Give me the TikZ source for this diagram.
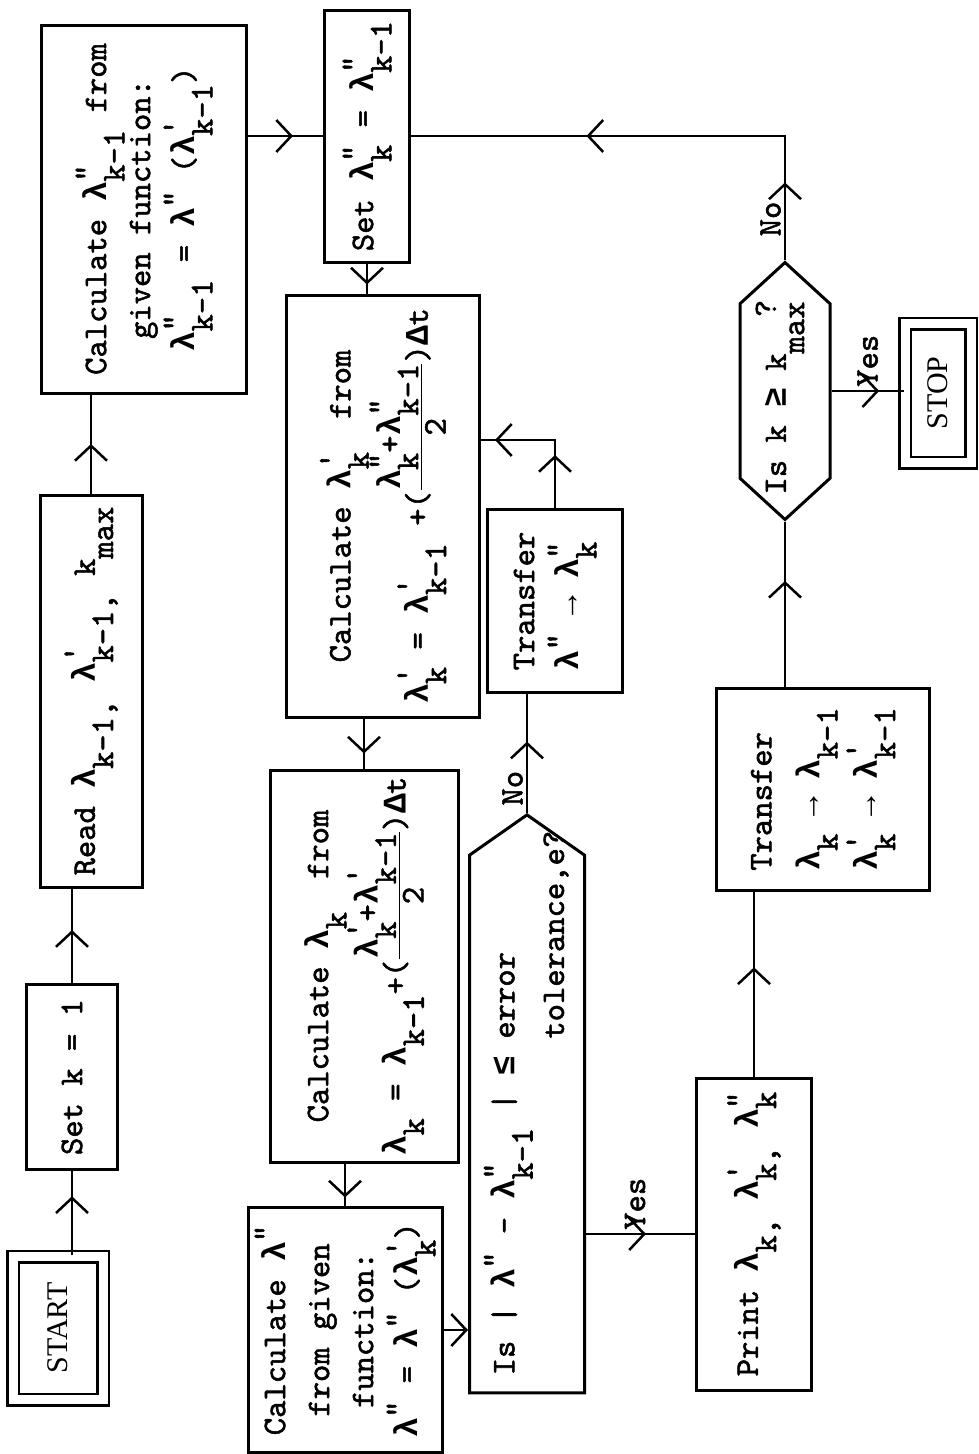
\documentclass[tikz,border=0pt]{standalone}
\usepackage{amsmath}
\usepackage{fontspec}
\newfontfamily\tyfont{lmmono10-regular.otf}[FakeBold=1.6]
\newfontfamily\grkfont{Liberation Mono Bold}
\newfontfamily\termfont{Liberation Serif}
\usepackage{tikz}
\usetikzlibrary{arrows.meta,shapes.symbols,calc,decorations.markings}
\newcommand{\lmb}{{\grkfont λ}}
\newcommand{\gsym}[1]{{\grkfont #1}}
\newcommand{\lsup}[1]{\raisebox{0.3em}{#1}}
\newcommand{\lsub}[1]{\raisebox{-0.55em}{#1}}
\newcommand{\lam}[2]{\lmb\makebox[0pt][l]{\lsup{#2}}\lsub{#1}}
\newcommand{\pr}{\symbol{39}}
\newcommand{\dpr}{\symbol{34}}

\begin{document}
\begin{tikzpicture}[x=1pt,y=-1pt,>={Straight Barb[length=15pt,width=32pt]},
  font=\tyfont\fontsize{33}{44}\selectfont,
  procblk/.style={draw,line width=3pt,rotate=90,align=center,inner sep=2pt},
  termblk/.style={draw,line width=2.5pt,double,double distance=9pt,rotate=90,font=\termfont\fontsize{30}{34}\selectfont},
  testblk/.style={draw,line width=3pt,rotate=90,shape=signal},
  testtxt/.style={rotate=90,align=left,inner sep=0pt},
  flow/.style={line width=2.5pt},
  midtip/.style={postaction={decorate,decoration={markings,mark=at position #1 with {\arrow[line width=2.5pt]{>}}}}},
  lbl/.style={rotate=90,inner sep=3pt}]
\useasboundingbox (0,0) rectangle (979,1454);
% first column
\node[termblk,minimum width=143pt,minimum height=90pt] (start) at (58,1328) {START};
\node[procblk,minimum width=185pt,minimum height=91pt] (setk) at (72,1077) {Set k = 1};
\node[procblk,minimum width=392pt,minimum height=102pt] (read) at (91,691) {Read \lam{k-1,}{}\ \lam{k-1,}{\pr}\ k\lsub{max}};
\node[procblk,minimum width=368pt,minimum height=205pt] (calcpp0) at (144,209) {Calculate \lam{k-1}{\dpr} from\\ given function:\\ \lam{k-1}{\dpr} = \lmb\lsup{\dpr} (\lam{k-1}{\pr})};
% second column
\node[procblk,minimum width=252pt,minimum height=85pt] (setpp) at (367,136) {Set \lam{k}{\dpr} = \lam{k-1}{\dpr}};
\node[procblk,minimum width=422pt,minimum height=193pt] (calcp) at (383,506) {Calculate \lam{k}{\pr}\quad from\\ \lam{k}{\pr} = \lam{k-1}{\pr} +($\dfrac{\text{\lam{k}{\dpr}+\lam{k-1}{\dpr}}}{\text{2}}$)\gsym{Δ}t};
\node[procblk,minimum width=392pt,minimum height=188pt] (calcl) at (364,966) {Calculate \lam{k}{}\quad from\\ \lam{k}{} = \lam{k-1}{}+($\dfrac{\text{\lam{k}{\pr}+\lam{k-1}{\pr}}}{\text{2}}$)\gsym{Δ}t};
\node[procblk,minimum width=245pt,minimum height=194pt] (calcpp) at (345,1330) {Calculate \lmb\lsup{\dpr}\\ from given\\ function:\\ \lmb\lsup{\dpr} = \lmb\lsup{\dpr} (\lam{k}{\pr})};
% third column
\node[testblk,signal to=east,signal pointer angle=110,minimum width=578pt,minimum height=115pt] (test1) at (527,1124) {};
\node[testtxt] (test1txt) at (533,1103) {Is | \lmb\lsup{\dpr} - \lam{k-1}{\dpr} | \gsym{≤} error\\ \phantom{Is | \lmb\lsup{\dpr} - \lam{k-1}{\dpr} | \gsym{≤} }tolerance,e?};
\node[procblk,minimum width=183pt,minimum height=135pt,align=left] (transpp) at (555,601) {Transfer\\ \lmb\lsup{\dpr} \gsym{→} \lam{k}{\dpr}};
% fourth column
\node[procblk,minimum width=312pt,minimum height=115pt] (print) at (754,1234) {Print \lam{k,}{}\ \lam{k,}{\pr}\ \lam{k}{\dpr}};
\node[procblk,minimum width=202pt,minimum height=213pt,align=left] (transf) at (823,789) {Transfer\\[4pt] \lam{k}{} \gsym{→} \lam{k-1}{}\\[8pt] \lam{k}{\pr} \gsym{→} \lam{k-1}{\pr}};
\node[testblk,signal to=east and west,signal pointer angle=95,minimum width=257pt,minimum height=90pt] (test2) at (785,391) {};
\node[testtxt] (test2txt) at (780,398) {Is k \gsym{≥} k\makebox[0pt][l]{\lsup{\hspace{1.1em}?}}\lsub{max}};
\node[termblk,minimum width=139pt,minimum height=66pt] (stop) at (938,393) {STOP};
% connectors
\coordinate (kink) at (555,440);
\draw[flow,midtip=0.7] (setk.west |- start.east) -- (setk.west);
\draw[flow,midtip=0.56] (setk.east) -- (setk.east |- read.west);
\draw[flow,midtip=0.5] (read.east) -- (read.east |- calcpp0.west);
\draw[flow,midtip=0.6] (calcpp0.south |- setpp) -- (setpp.north);
\draw[flow,midtip=0.7] (setpp.west) -- (setpp.west |- calcp.east);
\draw[flow,midtip=0.7] (calcl.east |- calcp.west) -- (calcl.east);
\draw[flow,midtip=0.8] (calcpp.east |- calcl.west) -- (calcpp.east);
\draw[flow,->] (calcpp.south) -- (calcpp.south -| test1.north);
\draw[flow,midtip=0.55] (print.north -| test1.south) -- node[lbl,pos=0.45,anchor=west]{Yes} (print.north);
\draw[flow,midtip=0.6] (test1.east) -- node[lbl,pos=0.39,anchor=south east]{No} (test1.east |- transpp.west);
\draw[flow,midtip=53pt,midtip=128pt] (transpp.east) -- (transpp.east |- kink) -- (calcp.south |- kink);
\draw[flow,midtip=0.59] (print.east) -- (print.east |- transf.west);
\draw[flow,midtip=0.64] (transf.east -| test2.west) -- (test2.west);
\draw[flow,midtip=78pt,midtip=323pt] (test2.east) -- node[lbl,pos=0.16,anchor=south west]{No} (test2.east |- setpp) -- (setpp.south);
\draw[flow,midtip=0.66] (test2.south) -- node[lbl,pos=0.5,anchor=west]{Yes} (test2.south -| stop.north);
\end{tikzpicture}
\end{document}
